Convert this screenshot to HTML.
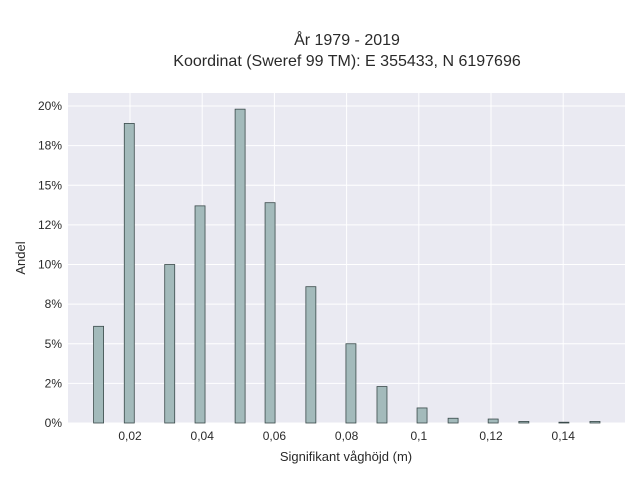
<!DOCTYPE html>
<html><head><meta charset="utf-8"><style>
body{margin:0;background:#fff;font-family:"Liberation Sans",sans-serif;}
svg text{font-family:"Liberation Sans",sans-serif;fill:#2a2a2a;}
</style></head><body>
<svg id="chart" width="640" height="480">
<text x="347" y="45" font-size="16" text-anchor="middle">År 1979 - 2019</text>
<text x="347" y="66" font-size="16" text-anchor="middle">Koordinat (Sweref 99 TM): E 355433, N 6197696</text>
<rect x="68" y="93" width="557" height="330" fill="#eaeaf2"/>
<g id="grid"></g><g id="bars"></g><g id="ticks"></g>
<text x="346" y="461" font-size="13" text-anchor="middle">Signifikant våghöjd (m)</text>
<text x="25" y="258" font-size="13" text-anchor="middle" transform="rotate(-90 25 258)">Andel</text>
</svg>
<script>
const categories=[0.0113,0.0198,0.0310,0.0394,0.0505,0.0588,0.0701,0.0812,0.0898,0.1009,0.1095,0.1206,0.1291,0.1402,0.1488];
const shares=[6.1,18.9,10.0,13.7,19.8,13.9,8.6,5.0,2.3,0.95,0.3,0.25,0.1,0.05,0.1];
const xTicks=[0.02,0.04,0.06,0.08,0.10,0.12,0.14];
const xTickLabels=["0,02","0,04","0,06","0,08","0,1","0,12","0,14"];
const yTicks=[0,2.5,5,7.5,10,12.5,15,17.5,20];
const yTickLabels=["0%","2%","5%","8%","10%","12%","15%","18%","20%"];
const NS="http://www.w3.org/2000/svg";
const X=v=>130+(v-0.02)*3610;
const Y=v=>423-v*15.85;
function mk(tag,attrs,parent){const e=document.createElementNS(NS,tag);for(const k in attrs)e.setAttribute(k,attrs[k]);document.getElementById(parent).appendChild(e);return e;}
xTicks.forEach((t,i)=>{
 const l=mk('line',{x1:X(t),x2:X(t),y1:93,y2:423,stroke:'#fff','stroke-width':1},'grid');
 
 
 const tx=mk('text',{x:X(t),y:440,'font-size':12,'text-anchor':'middle'},'ticks');
 tx.textContent=xTickLabels[i];
 
 
});
yTicks.forEach((t,i)=>{
 const l=mk('line',{x1:68,x2:625,y1:Y(t),y2:Y(t),stroke:'#fff','stroke-width':1},'grid');
 
 
 const tx=mk('text',{x:62,y:Y(t)+4,'font-size':12,'text-anchor':'end'},'ticks');
 tx.textContent=yTickLabels[i];
 
 
});
categories.forEach((c,i)=>{
 const r=mk('rect',{x:X(c)-5,y:Y(shares[i]),width:10,height:423-Y(shares[i]),fill:'#a3babb',stroke:'#3a4a4a','stroke-width':0.8},'bars');
 
 
});
</script>
</body></html>
